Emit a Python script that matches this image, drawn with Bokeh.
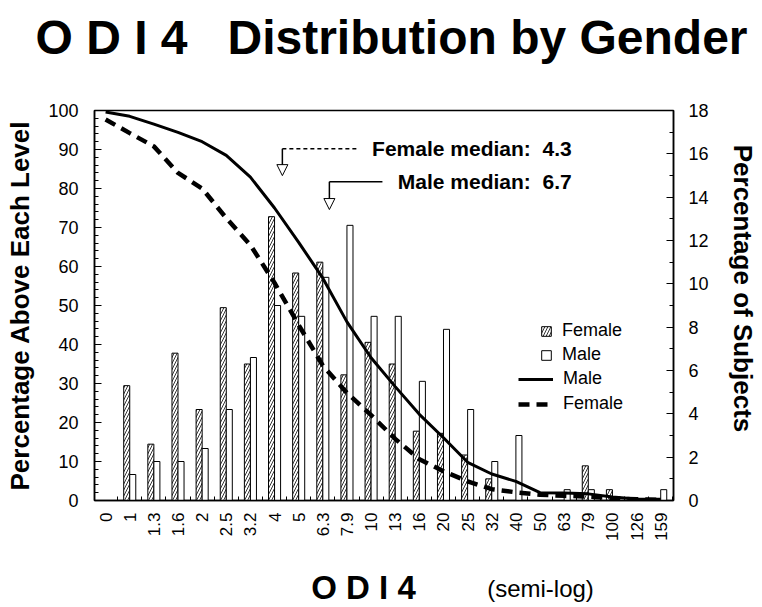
import math
from bokeh.plotting import figure
from bokeh.models import (Range1d, LinearAxis, FixedTicker, Label, Legend, LegendItem,
                          Arrow, NormalHead, ColumnDataSource)
from bokeh.transform import dodge
from bokeh.embed import file_html
from bokeh.resources import INLINE

# ---------------- data ----------------
odi_levels = ["0", "1", "1.3", "1.6", "2", "2.5", "3.2", "4", "5", "6.3", "7.9", "10",
              "13", "16", "20", "25", "32", "40", "50", "63", "79", "100", "126", "159"]
female_pct_subjects = [0, 5.3, 2.6, 6.8, 4.2, 8.9, 6.3, 13.1, 10.5, 11.0, 5.8, 7.3,
                       6.3, 3.2, 3.1, 2.1, 1.0, 0, 0, 0, 1.6, 0.5, 0, 0]
male_pct_subjects = [0, 1.2, 1.8, 1.8, 2.4, 4.2, 6.6, 9.0, 8.5, 10.3, 12.7, 8.5,
                     8.5, 5.5, 7.9, 4.2, 1.8, 3.0, 0, 0.5, 0.5, 0, 0, 0.5]
male_pct_above = [99.6, 98.5, 96.5, 94.4, 92.0, 88.5, 82.9, 75.0, 66.2, 57.0, 45.8, 36.6,
                  29.2, 22.1, 16.1, 9.8, 6.8, 4.9, 2.0, 1.9, 1.7, 0.9, 0.4, 0.3]
female_pct_above = [97.7, 94.2, 90.8, 84.0, 80.0, 72.4, 65.5, 55.8, 45.0, 34.6, 27.6, 21.9,
                    15.8, 10.6, 7.5, 4.9, 2.9, 2.1, 1.5, 1.2, 1.0, 0.6, 0.3, 0.2]
female_median = 4.3
male_median = 6.7
left_ticks = [0, 10, 20, 30, 40, 50, 60, 70, 80, 90, 100]
right_ticks = [0, 2, 4, 6, 8, 10, 12, 14, 16, 18]

FONT = "Liberation Sans"
idx = list(range(len(odi_levels)))
level_vals = [float(s) for s in odi_levels]


def level_position(v):
    for i in range(1, len(level_vals) - 1):
        a, b = level_vals[i], level_vals[i + 1]
        if a <= v < b:
            return i + math.log(v / a) / math.log(b / a)
    return len(level_vals) - 1


src = ColumnDataSource(dict(x=idx, female=female_pct_subjects, male=male_pct_subjects,
                            male_above=male_pct_above, female_above=female_pct_above))

p = figure(width=762, height=607, output_backend="svg", toolbar_location=None,
           x_range=Range1d(-0.46, 23.53), y_range=Range1d(0, 100),
           min_border_left=94, min_border_right=89, min_border_top=110, min_border_bottom=107)
p.extra_y_ranges = {"pct": Range1d(0, 18)}
p.xgrid.visible = False
p.ygrid.visible = False
p.outline_line_color = "black"
p.outline_line_width = 1.5
p.background_fill_color = "white"
p.border_fill_color = "white"

# x axis
xa = p.xaxis[0]
xa.ticker = FixedTicker(ticks=idx, minor_ticks=[i + 0.5 for i in range(-1, len(idx))])
xa.major_label_overrides = {i: s for i, s in enumerate(odi_levels)}
xa.major_label_orientation = math.pi / 2
xa.major_label_text_font = FONT
xa.major_label_text_font_size = "17px"
xa.major_label_text_color = "black"
xa.major_label_standoff = 12
xa.major_tick_in = 0
xa.major_tick_out = 0
xa.minor_tick_in = 4
xa.minor_tick_out = 0
xa.axis_line_color = "black"
xa.axis_line_width = 1.5

# left axis
ya = p.yaxis[0]
ya.ticker = FixedTicker(ticks=left_ticks, minor_ticks=list(range(0, 101, 2)))
ya.axis_label = "Percentage Above Each Level"
ya.axis_label_text_font = FONT
ya.axis_label_text_font_style = "bold"
ya.axis_label_text_font_size = "26px"
ya.axis_label_text_color = "black"
ya.axis_label_standoff = 10
ya.major_label_text_font = FONT
ya.major_label_text_font_size = "18px"
ya.major_label_text_color = "black"
ya.major_label_standoff = 16
ya.major_tick_in = 7
ya.major_tick_out = 0
ya.minor_tick_in = 4
ya.minor_tick_out = 0
ya.axis_line_color = "black"
ya.axis_line_width = 1.5

# right axis
ra = LinearAxis(y_range_name="pct",
                ticker=FixedTicker(ticks=right_ticks, minor_ticks=list(range(0, 19))))
ra.major_label_text_font = FONT
ra.major_label_text_font_size = "18px"
ra.major_label_text_color = "black"
ra.major_label_standoff = 15
ra.major_tick_in = 7
ra.major_tick_out = 0
ra.minor_tick_in = 4
ra.minor_tick_out = 0
ra.axis_line_color = "black"
ra.axis_line_width = 1.5
p.add_layout(ra, "right")

# bars
fbar = p.vbar(x=dodge("x", -0.125, range=p.x_range), top="female", width=0.25, source=src,
              y_range_name="pct", fill_color="white", line_color="black", line_width=1,
              hatch_pattern="/", hatch_color="black", hatch_scale=6, hatch_weight=0.8)
mbar = p.vbar(x=dodge("x", 0.125, range=p.x_range), top="male", width=0.25, source=src,
              y_range_name="pct", fill_color="white", line_color="black", line_width=1)

# cumulative lines
mline = p.line(x="x", y="male_above", source=src, line_color="black", line_width=3)
fline = p.line(x="x", y="female_above", source=src, line_color="black", line_width=4.5,
               line_dash="11 7")

# legends
leg1 = Legend(items=[LegendItem(label="Female", renderers=[fbar]),
                     LegendItem(label="Male", renderers=[mbar])],
              location=(446, 135), glyph_width=12, glyph_height=12, label_standoff=10,
              padding=0, margin=0, spacing=3, label_height=20, border_line_color=None,
              background_fill_alpha=0, label_text_font=FONT, label_text_font_size="18px",
              label_text_color="black")
leg2 = Legend(items=[LegendItem(label="Male", renderers=[mline]),
                     LegendItem(label="Female", renderers=[fline])],
              location=(424, 86), glyph_width=35, glyph_height=12, label_standoff=10,
              padding=0, margin=0, spacing=4, label_height=20, border_line_color=None,
              background_fill_alpha=0, label_text_font=FONT, label_text_font_size="18px",
              label_text_color="black")
p.add_layout(leg1, "center")
p.add_layout(leg2, "center")

# median annotations
xf = level_position(female_median)
xm = level_position(male_median)
text_right = 19.31
p.add_layout(Arrow(x_start=xf, y_start=90.2, x_end=10.44, y_end=90.2, end=None,
                   line_color="black", line_width=1.5, line_dash="4 3"))
p.add_layout(Arrow(x_start=xf, y_start=90.2, x_end=xf, y_end=83.3,
                   end=NormalHead(size=11, fill_color="white", line_color="black", line_width=1),
                   line_color="black", line_width=1.5))
p.add_layout(Arrow(x_start=xm, y_start=81.7, x_end=11.47, y_end=81.7, end=None,
                   line_color="black", line_width=1.5))
p.add_layout(Arrow(x_start=xm, y_start=81.7, x_end=xm, y_end=74.6,
                   end=NormalHead(size=11, fill_color="white", line_color="black", line_width=1),
                   line_color="black", line_width=1.5))
p.add_layout(Label(x=text_right, y=90.2, text="Female median:\u00a0 %.1f" % female_median,
                   text_align="right", text_baseline="middle", text_font=FONT,
                   text_font_style="bold", text_font_size="21px", text_color="black"))
p.add_layout(Label(x=text_right, y=81.7, text="Male median:\u00a0 %.1f" % male_median,
                   text_align="right", text_baseline="middle", text_font=FONT,
                   text_font_style="bold", text_font_size="21px", text_color="black"))

# title, right axis title and x-axis caption (side panels, so not clipped to the frame)
p.add_layout(Label(x=391, y=37, x_units="canvas", y_units="canvas",
                   text="O D I 4\u00a0\u00a0 Distribution by Gender", text_align="center",
                   text_baseline="middle", text_font=FONT,
                   text_font_style="bold", text_font_size="48px", text_color="black"), "above")
p.add_layout(Label(x=742, y=288, x_units="canvas", y_units="canvas",
                   text="Percentage of Subjects", angle=-math.pi / 2, text_align="center",
                   text_baseline="middle", text_font=FONT, text_font_style="bold",
                   text_font_size="26px", text_color="black"), "right")
p.add_layout(Label(x=363, y=587, x_units="canvas", y_units="canvas", text="O D I 4",
                   text_align="center", text_baseline="middle", text_font=FONT,
                   text_font_style="bold", text_font_size="33px", text_color="black"), "below")
p.add_layout(Label(x=540, y=588, x_units="canvas", y_units="canvas", text="(semi-log)",
                   text_align="center", text_baseline="middle", text_font=FONT,
                   text_font_size="24px", text_color="black"), "below")

open("out.html", "w").write(file_html(p, INLINE))
